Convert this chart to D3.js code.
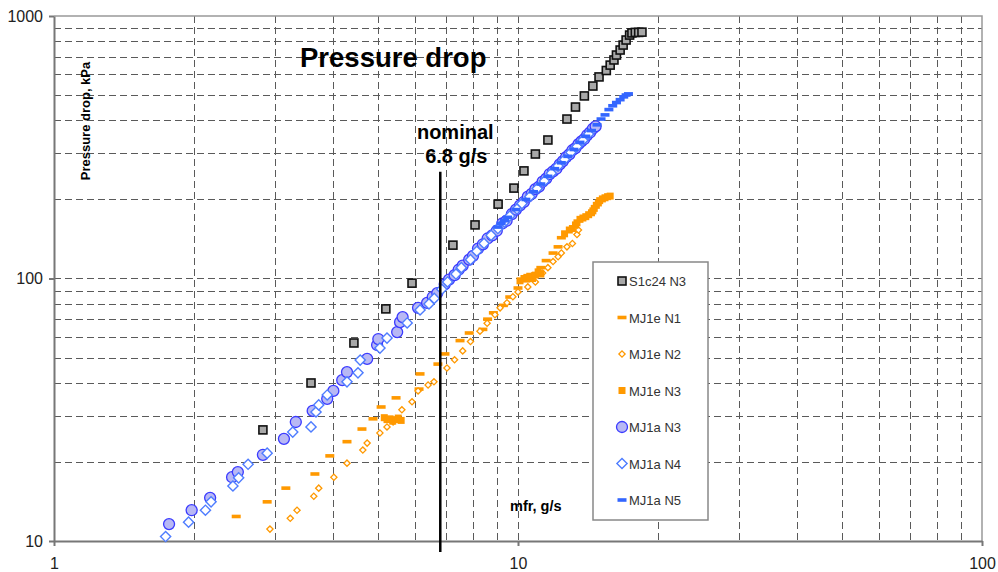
<!DOCTYPE html>
<html>
<head>
<meta charset="utf-8">
<script src="https://cdn.jsdelivr.net/npm/d3@7"></script>
<style>
    body { margin: 0; background: #fff; }
    svg { display: block; font-family: "Liberation Sans", Arial, sans-serif; }
    .grid line { stroke: #5a5a5a; stroke-width: 1; stroke-dasharray: 7, 4; shape-rendering: crispEdges; }
    .axis path, .axis line { stroke: #777; stroke-width: 2; }
    .axis text { fill: #222; font-size: 16px; }
</style>
</head>
<body>
<div class="chart"></div>
<script>
// mass flow rate (g/s) vs pressure drop (kPa)
let s1c24N3 = [[2.82, 26.5], [3.58, 40], [4.43, 56.8], [5.19, 76.6], [5.91, 96], [7.24, 134], [8.08, 160],
    [9.06, 192], [9.8, 221], [10.3, 257], [10.9, 298], [11.6, 337], [12.75, 405], [13.3, 450], [13.9, 496],
    [14.5, 541], [14.95, 586], [15.5, 620], [15.8, 650], [16.1, 680], [16.3, 710], [16.6, 742], [16.85, 775],
    [17.1, 810], [17.4, 846], [17.6, 862], [17.9, 866], [18.2, 866], [18.5, 868]];

let mj1eN1 = [[2.47, 12.4], [2.88, 14.1], [3.16, 15.9], [3.65, 18.0], [3.93, 21.1], [4.28, 23.9], [4.61, 26.7],
    [4.87, 29.2], [5.07, 32.4], [5.46, 35.1], [6.12, 37.9], [6.15, 43.3], [6.72, 47.2], [6.96, 51.6], [7.5, 58],
    [7.85, 62], [8.4, 64], [8.6, 70], [8.85, 74], [9.3, 79], [9.6, 85], [10.0, 92], [10.4, 98], [10.9, 104],
    [11.2, 110], [11.5, 117], [11.9, 125], [12.2, 132], [12.4, 143]];

let mj1eN2 = [[2.92, 11.1], [3.23, 12.2], [3.34, 13.1], [3.63, 14.8], [3.72, 15.9], [4.01, 17.5], [4.28, 19.8],
    [4.63, 22.2], [4.73, 23.6], [5.04, 25.8], [5.22, 27.2], [5.38, 28.4], [5.62, 31.6], [5.91, 33.9], [6.09, 37.3],
    [6.4, 39.3], [6.59, 40.4], [7.03, 45.6], [7.3, 49], [7.6, 53], [7.9, 57.5], [8.28, 63], [8.58, 67.5],
    [8.92, 72.8], [9.15, 77.3], [9.47, 80.8], [9.75, 85.2], [10.0, 88.9], [10.5, 92.9], [10.9, 97], [11.3, 105],
    [11.6, 110], [11.9, 116], [12.2, 121], [12.4, 125], [12.75, 132], [13.1, 136], [13.4, 147], [13.5, 153]];

let mj1eN3 = [[5.15, 29.5], [5.22, 29.0], [5.3, 29.2], [5.37, 28.6], [5.45, 29.0], [5.52, 29.4], [5.6, 28.8],
    [10.1, 98], [10.3, 100], [10.45, 101], [10.6, 102], [10.75, 100], [10.9, 103], [11.05, 106], [11.2, 104],
    [12.6, 148], [12.9, 153], [13.1, 155], [13.3, 160], [13.4, 163], [13.6, 168], [13.8, 170], [14.0, 172],
    [14.2, 175], [14.4, 178], [14.5, 181], [14.6, 185], [14.75, 190], [14.9, 194], [15.0, 198], [15.2, 201],
    [15.4, 203], [15.6, 205], [15.8, 206]];

let mj1aN3 = [[1.77, 11.6], [1.98, 13.1], [2.17, 14.6], [2.42, 17.5], [2.49, 18.3], [2.82, 21.3], [3.13, 24.5],
    [3.32, 28.4], [3.61, 31.3], [3.88, 34.8], [4.0, 37.3], [4.18, 41.0], [4.28, 44.0], [4.73, 49.4], [4.97, 55.8],
    [5.0, 58.8], [5.49, 62.5], [5.57, 68.2], [5.64, 71.3], [6.09, 77.3], [6.37, 80.8], [6.55, 85], [6.7, 88],
    [6.95, 95], [7.1, 99], [7.3, 103], [7.45, 108], [7.6, 112], [7.85, 118], [8.0, 122], [8.2, 130], [8.4, 135],
    [8.6, 142], [8.8, 146], [9.0, 152], [9.25, 162], [9.45, 166], [9.7, 176], [9.9, 183], [10.1, 190],
    [10.3, 196], [10.5, 205], [10.7, 210], [10.9, 219], [11.1, 224], [11.3, 234], [11.5, 240], [11.7, 250],
    [11.9, 256], [12.1, 262], [12.3, 272], [12.5, 280], [12.7, 290], [12.9, 297], [13.1, 308], [13.3, 314],
    [13.5, 325], [13.7, 333], [13.9, 340], [14.1, 352], [14.3, 360], [14.5, 372], [14.7, 380]];

let mj1aN4 = [[1.74, 10.4], [1.95, 11.8], [2.12, 13.1], [2.18, 14.1], [2.43, 16.2], [2.5, 17.4], [2.62, 19.6],
    [2.88, 21.6], [3.27, 26.0], [3.58, 27.2], [3.67, 31.0], [3.72, 33.0], [3.88, 36.0], [4.28, 40.4], [4.52, 43.7],
    [4.57, 48.9], [5.04, 54.3], [5.22, 59.3], [5.77, 67.7], [6.15, 75.9], [6.43, 80], [6.6, 84], [6.85, 91],
    [7.05, 97], [7.35, 104], [7.55, 110], [7.9, 118], [8.15, 127], [8.45, 136], [8.75, 146], [9.05, 155],
    [9.35, 164], [9.6, 173], [9.95, 184], [10.2, 193], [10.6, 205], [11.0, 220], [11.4, 235], [11.8, 252],
    [12.2, 268], [12.6, 284], [13.0, 302], [13.4, 318], [13.8, 336], [14.2, 355]];

let mj1aN5 = [[9.05, 157], [9.2, 162], [9.35, 166], [9.5, 171], [9.9, 183], [10.4, 200], [10.8, 214], [11.2, 229],
    [11.6, 245], [12.0, 262], [12.4, 276], [12.8, 292], [13.2, 310], [13.6, 330], [14.0, 348], [14.4, 366],
    [14.8, 385], [15.1, 405], [15.4, 420], [15.7, 440], [16.0, 455], [16.3, 468], [16.6, 480], [16.9, 492],
    [17.1, 500], [17.3, 505]];

let legendNames = ['S1c24 N3', 'MJ1e N1', 'MJ1e N2', 'MJ1e N3', 'MJ1a N3', 'MJ1a N4', 'MJ1a N5'];
let xTickLabels = [1, 10, 100];
let yTickLabels = [10, 100, 1000];
let nominalFlow = 6.8;
let nominalTop = 255;   // kPa, where the nominal line stops

let series = [s1c24N3, mj1eN1, mj1eN2, mj1eN3, mj1aN3, mj1aN4, mj1aN5];
let markerTypes = ['blackSquare', 'orangeDash', 'orangeDiamond', 'orangeSquare', 'blueCircle', 'blueDiamond', 'blueDash'];

let w = 998, h = 572;
let margin = {top: 16, right: 16, bottom: 31, left: 54};
let svg = d3.select('.chart').append('svg').attr('width', w).attr('height', h);

/* ==== X & Y SCALES ===== */

let xScale = d3.scaleLog()
    .domain([1, 100])
    .range([margin.left, w - margin.right]);

let yScale = d3.scaleLog()
    .domain([10, 1000])
    .range([h - margin.bottom, margin.top]);

/* ==== GRID ===== */

let xGrid = xScale.ticks().filter(function (d) { return d > 1 && d < 100; });
let yGrid = yScale.ticks().filter(function (d) { return d > 10 && d < 1000; });

svg.append('g')
    .attr('class', 'grid')
    .selectAll('line.v')
    .data(xGrid)
    .enter().append('line')
    .attr('x1', function (d) { return Math.round(xScale(d)) + 0.5; })
    .attr('x2', function (d) { return Math.round(xScale(d)) + 0.5; })
    .attr('y1', yScale(1000))
    .attr('y2', yScale(10));

svg.append('g')
    .attr('class', 'grid')
    .selectAll('line.h')
    .data(yGrid)
    .enter().append('line')
    .attr('x1', xScale(1))
    .attr('x2', xScale(100))
    .attr('y1', function (d) { return Math.round(yScale(d)) + 0.5; })
    .attr('y2', function (d) { return Math.round(yScale(d)) + 0.5; });

// top + right border of plot area
svg.append('path')
    .attr('d', 'M' + xScale(1) + ',' + yScale(1000) + 'H' + xScale(100) + 'V' + yScale(10))
    .attr('fill', 'none')
    .attr('stroke', '#999')
    .attr('stroke-width', 1.5);

/* ==== AXES ===== */

let xAxis = d3.axisBottom(xScale)
    .tickValues(xTickLabels)
    .tickFormat(d3.format('d'))
    .tickSize(5)
    .tickSizeOuter(0)
    .tickPadding(12);

let yAxis = d3.axisLeft(yScale)
    .tickValues(yTickLabels)
    .tickFormat(d3.format('d'))
    .tickSize(5)
    .tickSizeOuter(0)
    .tickPadding(6);

svg.append('g')
    .attr('class', 'axis x')
    .attr('transform', 'translate(0,' + yScale(10) + ')')
    .call(xAxis);

svg.append('g')
    .attr('class', 'axis y')
    .attr('transform', 'translate(' + xScale(1) + ',0)')
    .call(yAxis);

svg.selectAll('.axis text').attr('font-family', null).attr('font-size', null);

/* ==== MARKERS ===== */

function drawMarker(g, type, cx, cy) {
    if (type === 'blackSquare') {
        g.append('rect').attr('x', cx - 4).attr('y', cy - 4).attr('width', 8).attr('height', 8)
            .attr('fill', '#a8a8a8').attr('stroke', '#111').attr('stroke-width', 1.6);
    } else if (type === 'orangeDash') {
        g.append('rect').attr('x', cx - 4.5).attr('y', cy - 1.8).attr('width', 9).attr('height', 3.6)
            .attr('fill', '#ff9900');
    } else if (type === 'orangeDiamond') {
        g.append('rect').attr('x', -2.2).attr('y', -2.2).attr('width', 4.4).attr('height', 4.4)
            .attr('transform', 'translate(' + cx + ',' + cy + ') rotate(45)')
            .attr('fill', '#fff').attr('stroke', '#ff9900').attr('stroke-width', 1.3);
    } else if (type === 'orangeSquare') {
        g.append('rect').attr('x', cx - 3.5).attr('y', cy - 3.5).attr('width', 7).attr('height', 7)
            .attr('fill', '#ff9900');
    } else if (type === 'blueCircle') {
        g.append('circle').attr('cx', cx).attr('cy', cy).attr('r', 5.5)
            .attr('fill', '#b8b8f4').attr('stroke', '#3b3bff').attr('stroke-width', 1.3);
    } else if (type === 'blueDiamond') {
        g.append('rect').attr('x', -3.6).attr('y', -3.6).attr('width', 7.2).attr('height', 7.2)
            .attr('transform', 'translate(' + cx + ',' + cy + ') rotate(45)')
            .attr('fill', '#fff').attr('stroke', '#4f7dff').attr('stroke-width', 1.4);
    } else if (type === 'blueDash') {
        g.append('rect').attr('x', cx - 4.5).attr('y', cy - 1.8).attr('width', 9).attr('height', 3.6)
            .attr('fill', '#3366ff');
    }
}

series.forEach(function (data, i) {
    let g = svg.append('g').attr('class', 'series s' + i);
    data.forEach(function (d) {
        drawMarker(g, markerTypes[i], xScale(d[0]), yScale(d[1]));
    });
});

/* ==== NOMINAL LINE ===== */

svg.append('line')
    .attr('x1', xScale(nominalFlow))
    .attr('x2', xScale(nominalFlow))
    .attr('y1', yScale(nominalTop))
    .attr('y2', yScale(10) + 11)
    .attr('stroke', '#000')
    .attr('stroke-width', 2.5);

svg.append('text')
    .text('nominal')
    .attr('x', xScale(nominalFlow) + 15)
    .attr('y', 139)
    .attr('text-anchor', 'middle')
    .attr('font-weight', 'bold')
    .attr('font-size', 20);

svg.append('text')
    .text(nominalFlow + ' g/s')
    .attr('x', xScale(nominalFlow) + 16)
    .attr('y', 163)
    .attr('text-anchor', 'middle')
    .attr('font-weight', 'bold')
    .attr('font-size', 20);

/* ==== TITLES ===== */

svg.append('text')
    .text('Pressure drop')
    .attr('x', 300)
    .attr('y', 67)
    .attr('font-weight', 'bold')
    .attr('font-size', 27.5);

svg.append('text')
    .text('Pressure drop, kPa')
    .attr('transform', 'translate(90,121) rotate(-90)')
    .attr('text-anchor', 'middle')
    .attr('font-weight', 'bold')
    .attr('font-size', 13);

svg.append('text')
    .text('mfr, g/s')
    .attr('x', 510)
    .attr('y', 511)
    .attr('font-weight', 'bold')
    .attr('font-size', 14.5);

/* ==== LEGEND ===== */

let legend = svg.append('g').attr('class', 'legend');

legend.append('rect')
    .attr('x', 593)
    .attr('y', 262)
    .attr('width', 115)
    .attr('height', 258)
    .attr('fill', '#fff')
    .attr('stroke', '#888')
    .attr('stroke-width', 1.5);

legendNames.forEach(function (name, i) {
    let ly = 281 + i * 36.5;
    drawMarker(legend, markerTypes[i], 622, ly);
    legend.append('text')
        .text(name)
        .attr('x', 629)
        .attr('y', ly + 5)
        .attr('fill', '#333')
        .attr('font-size', 13);
});
</script>
</body>
</html>
